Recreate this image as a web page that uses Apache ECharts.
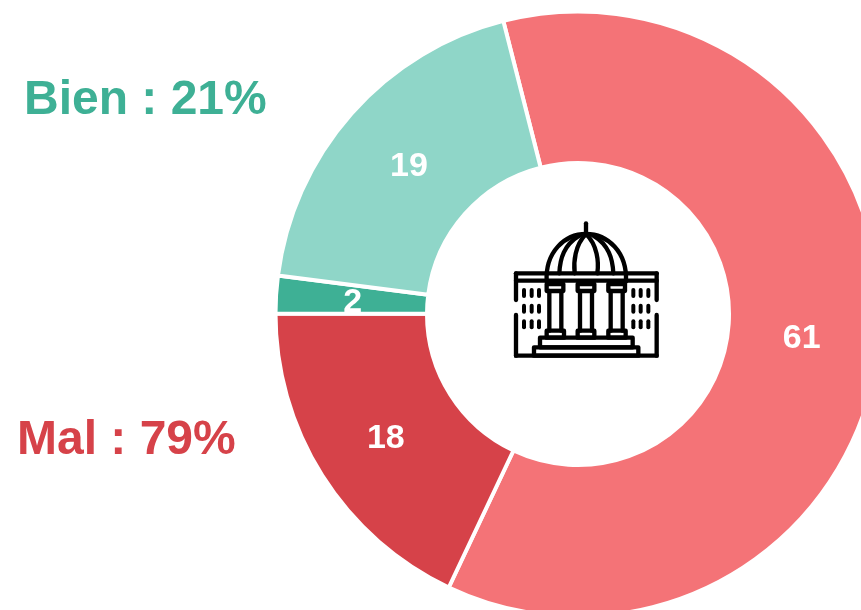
<!DOCTYPE html>
<html><head><meta charset="utf-8">
<style>html,body{margin:0;padding:0;background:#fff}#c{width:861px;height:610px}</style>
<script src="https://cdn.jsdelivr.net/npm/echarts@6/dist/echarts.min.js"></script>
</head><body><div id="c"></div>
<script>
const categories = ['Plutôt mal', 'Très mal', 'Très bien', 'Plutôt bien'];
const values = [61, 18, 2, 19];
const colors = ['#F47377', '#D64249', '#3EB095', '#8FD6C8'];
const groupLabels = ['Bien : 21%', 'Mal : 79%'];
const groupColors = ['#3EB095', '#D64249'];
const labelOffsets = [[-5, 3], [2, 2], [4, 3], [3, 5]];
const FONT = '"Liberation Sans", Arial, sans-serif';

const ink = {fill: 'transparent', stroke: '#000', lineWidth: 13, lineCap: 'round', lineJoin: 'round'};
const curves = [
 [140,200,135,110,195,57,258,57],[258,57,322,57,382,110,378,200],
 [258,57,225,90,220,140,224,175],[258,57,292,90,297,140,292,175],
 [238,62,192,90,180,130,178,175],[280,62,326,90,338,130,340,175]
];
const segs = [
 [258,25,258,57],[48,175,470,175],[48,175,48,255],[470,175,470,255],[48,197,470,197],
 [48,300,48,422],[470,300,470,422],[48,422,470,422],
 [148,228,148,347],[184,228,184,347],[240,228,240,347],[276,228,276,347],[332,228,332,347],[368,228,368,347]
];
const boxes = [
 [140,207,50,21],[233,207,50,21],[325,207,50,21],
 [140,347,52,21],[233,347,50,21],[325,347,52,21],
 [120,368,278,29],[102,397,313,25]
];
const winX = [72, 95, 117, 400, 422, 445], winY = [234, 281, 328];
const iconParts = [
 ...curves.map(c => ({type: 'bezierCurve', shape: {x1:c[0],y1:c[1],cpx1:c[2],cpy1:c[3],cpx2:c[4],cpy2:c[5],x2:c[6],y2:c[7]}, style: ink})),
 ...segs.map(s => ({type: 'line', shape: {x1:s[0],y1:s[1],x2:s[2],y2:s[3]}, style: ink})),
 ...boxes.map(b => ({type: 'rect', shape: {x:b[0],y:b[1],width:b[2],height:b[3]}, style: ink})),
 ...winX.flatMap(x => winY.map(y => ({type: 'line', shape: {x1:x,y1:y-9,x2:x,y2:y+9}, style: {...ink, lineWidth: 12}})))
];

const chart = echarts.init(document.getElementById('c'), null, {renderer: 'canvas'});
chart.setOption({
  animation: false,
  backgroundColor: '#fff',
  series: [{
    type: 'pie',
    center: [578, 314],
    radius: [151, 302.5],
    startAngle: 104.3,
    clockwise: true,
    sort: null,
    silent: true,
    avoidLabelOverlap: false,
    itemStyle: {borderColor: '#fff', borderWidth: 4},
    label: {show: true, position: 'inside', formatter: '{c}', color: '#fff', fontFamily: FONT, fontWeight: 'bold', fontSize: 34, textBorderWidth: 0},
    labelLine: {show: false},
    data: categories.map((name, i) => ({name, value: values[i], itemStyle: {color: colors[i]}, label: {offset: labelOffsets[i]}}))
  }],
  graphic: [
    {type: 'text', x: 24, y: 77, style: {text: groupLabels[0], fill: groupColors[0], font: 'bold 48px ' + FONT}},
    {type: 'text', x: 17, y: 417, style: {text: groupLabels[1], fill: groupColors[1], font: 'bold 48px ' + FONT}},
    {type: 'group', x: 500, y: 215, scaleX: 1/3, scaleY: 1/3, children: iconParts}
  ]
});
</script></body></html>
